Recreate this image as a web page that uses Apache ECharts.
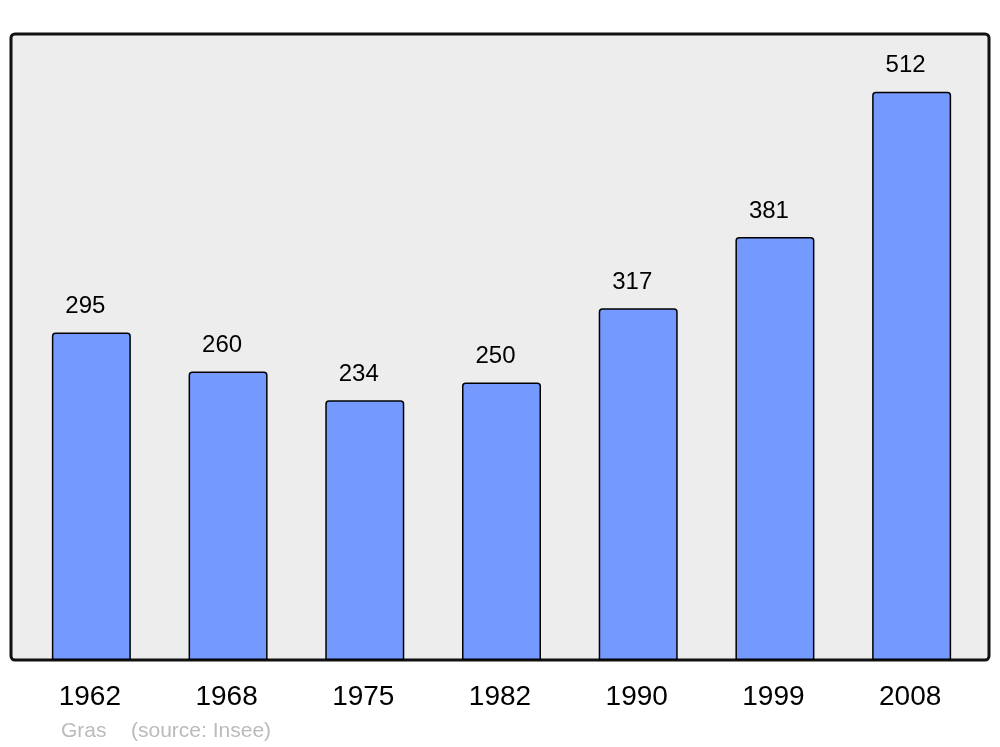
<!DOCTYPE html>
<html>
<head>
<meta charset="utf-8">
<script src="https://cdn.jsdelivr.net/npm/echarts@6/dist/echarts.min.js"></script>
<style>
  html, body { margin: 0; padding: 0; background: #fff; }
  #chart { width: 1000px; height: 747px; }
</style>
</head>
<body>
<div id="chart"></div>
<script>
const years = ["1962", "1968", "1975", "1982", "1990", "1999", "2008"];
const population = [295, 260, 234, 250, 317, 381, 512];

const chart = echarts.init(document.getElementById("chart"));
chart.setOption({
  animation: false,
  textStyle: { fontFamily: "Liberation Sans, Arial, sans-serif" },
  graphic: [
    {
      type: "rect",
      z: -10,
      shape: { x: 11, y: 34, width: 978, height: 626, r: 4 },
      style: { fill: "#ededed", stroke: "#111", lineWidth: 3 }
    },
    {
      type: "text",
      left: 61,
      top: 721,
      style: { text: "Gras", fill: "#bbb", font: "21px Liberation Sans, Arial, sans-serif" }
    },
    {
      type: "text",
      left: 131,
      top: 721,
      style: { text: "(source: Insee)", fill: "#bbb", font: "21px Liberation Sans, Arial, sans-serif" }
    }
  ],
  grid: { left: 23, right: 20, top: 34, bottom: 87 },
  xAxis: {
    type: "category",
    data: years,
    axisLine: { show: false },
    axisTick: { show: false },
    axisLabel: { color: "#000", fontSize: 28, margin: 23, padding: [0, 3, 0, 0] }
  },
  yAxis: {
    type: "value",
    min: 0,
    max: 564,
    show: false,
    splitLine: { show: false }
  },
  series: [
    {
      type: "bar",
      data: population,
      barWidth: 79,
      itemStyle: {
        color: "#7499ff",
        borderColor: "#000",
        borderWidth: 1.5,
        borderRadius: [3, 3, 0, 0]
      },
      label: {
        show: true,
        position: "top",
        distance: 14,
        offset: [-6, 0],
        color: "#000",
        fontSize: 24
      }
    }
  ]
});
</script>
</body>
</html>
